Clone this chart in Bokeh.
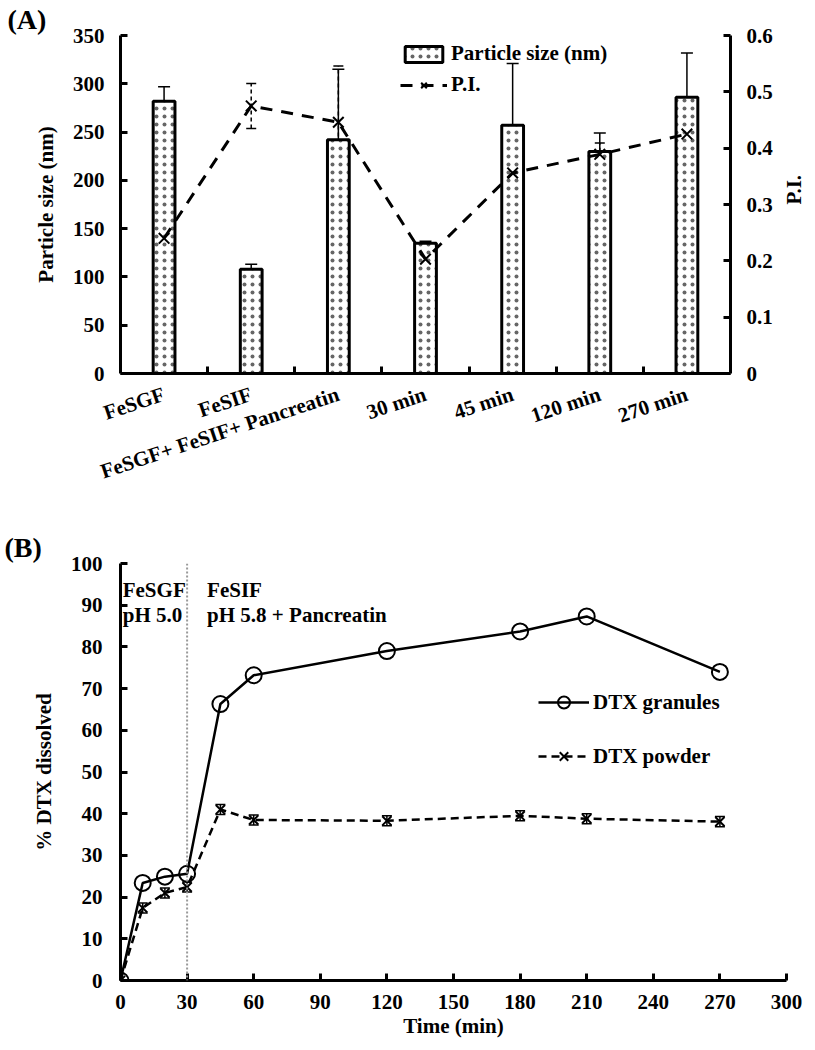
import math
from bokeh.plotting import figure
from bokeh.models import (ColumnDataSource, Whisker, TeeHead, Legend, LegendItem, Label,
                          LinearAxis, Range1d, FixedTicker, Span, Title)
from bokeh.layouts import column
from bokeh.embed import file_html
from bokeh.resources import INLINE

FONT = "Liberation Serif"
FS = "21px"

# ---------------- Panel A data ----------------
categories = ["FeSGF", "FeSIF", "FeSGF+ FeSIF+ Pancreatin", "30 min", "45 min", "120 min", "270 min"]
size_nm = [282, 108, 242, 135, 257, 230, 286]
size_err = [15, 5, 73, 2, 64, 19, 46]
pi_vals = [0.24, 0.475, 0.446, 0.203, 0.356, 0.389, 0.425]
pi_err = [0.04, 0.04, 0.10, 0.02, 0.044, 0.02, 0.023]
size_ticks = [0, 50, 100, 150, 200, 250, 300, 350]
pi_ticks = [0, 0.1, 0.2, 0.3, 0.4, 0.5, 0.6]

# ---------------- Panel B data ----------------
time_min = [0, 10, 20, 30, 45, 60, 120, 180, 210, 270]
granules = [0, 23.4, 24.9, 25.6, 66.3, 73.2, 79.0, 83.7, 87.3, 74.0]
powder = [0, 17.4, 21.0, 22.4, 41.0, 38.5, 38.3, 39.5, 38.8, 38.1]
powder_err = [0, 1.2, 1.2, 1.2, 1.2, 1.2, 1.2, 1.2, 1.2, 1.2]
time_ticks = [0, 30, 60, 90, 120, 150, 180, 210, 240, 270, 300]
pct_ticks = [0, 10, 20, 30, 40, 50, 60, 70, 80, 90, 100]
phase_change = 30
phase1_lines = ["FeSGF", "pH 5.0"]
phase2_lines = ["FeSIF", "pH 5.8 + Pancreatin"]


def style_axis(ax, tick_in=7):
    ax.axis_line_width = 3
    ax.axis_line_color = "black"
    ax.major_tick_line_width = 3
    ax.major_tick_in = tick_in
    ax.major_tick_out = 0
    ax.minor_tick_line_color = None
    ax.major_label_text_font = FONT
    ax.major_label_text_font_style = "bold"
    ax.major_label_text_font_size = FS
    ax.major_label_text_color = "black"
    ax.axis_label_text_font = FONT
    ax.axis_label_text_font_style = "bold"
    ax.axis_label_text_font_size = FS
    ax.axis_label_text_color = "black"


def panel_title(text, offset):
    return Title(text=text, align="left", offset=offset, standoff=2,
                 text_font=FONT, text_font_style="bold", text_font_size="28px",
                 text_color="black")


# ================= Panel A =================
xpos = [i + 0.5 for i in range(len(categories))]
srcA = ColumnDataSource(dict(
    x=xpos, size=size_nm,
    s_up=[v + e for v, e in zip(size_nm, size_err)],
    s_lo=[v - e for v, e in zip(size_nm, size_err)],
    pi=pi_vals,
    p_up=[v + e for v, e in zip(pi_vals, pi_err)],
    p_lo=[v - e for v, e in zip(pi_vals, pi_err)],
))

pA = figure(output_backend="svg", toolbar_location=None,
            frame_width=610, frame_height=338,
            x_range=Range1d(0, len(categories)), y_range=Range1d(0, 350),
            min_border_left=117, min_border_right=79, min_border_top=33, min_border_bottom=136)
pA.title = panel_title("(A)", -113)
pA.extra_y_ranges = {"pi": Range1d(0, 0.6)}
pA.outline_line_color = None
pA.xgrid.visible = False
pA.ygrid.visible = False
pA.background_fill_color = "white"

bars = pA.vbar(x="x", top="size", width=0.25, bottom=0, source=srcA,
               fill_color="white", line_color="black", line_width=3,
               hatch_pattern="dot", hatch_scale=8, hatch_color="black",
               hatch_weight=0.5, hatch_alpha=0.6)
pA.add_layout(Whisker(source=srcA, base="x", upper="s_up", lower="s_lo",
                      line_width=1.5, line_color="black",
                      upper_head=TeeHead(size=12, line_width=1.5),
                      lower_head=TeeHead(size=12, line_width=1.5)))

pi_line = pA.line("x", "pi", source=srcA, y_range_name="pi", line_color="black",
                  line_width=3, line_dash="12 9")
pi_pts = pA.scatter("x", "pi", source=srcA, y_range_name="pi", marker="x", size=15,
                    line_color="black", line_width=2)
pA.add_layout(Whisker(source=srcA, base="x", upper="p_up", lower="p_lo", y_range_name="pi",
                      line_width=1.5, line_color="black", line_dash="4 3",
                      upper_head=TeeHead(size=10, line_width=1.5),
                      lower_head=TeeHead(size=10, line_width=1.5)))

# axes
xa = pA.xaxis[0]
style_axis(xa, tick_in=0)
xa.ticker = FixedTicker(ticks=xpos, minor_ticks=list(range(1, len(categories))))
xa.major_label_overrides = {x: c for x, c in zip(xpos, categories)}
xa.major_tick_line_color = None
xa.minor_tick_line_color = "black"
xa.minor_tick_line_width = 3
xa.minor_tick_in = 7
xa.minor_tick_out = 0
xa.major_label_orientation = 0.32
xa.major_label_standoff = 20

ya = pA.yaxis[0]
style_axis(ya)
ya.ticker = FixedTicker(ticks=size_ticks)
ya.axis_label = "Particle size (nm)"
ya.major_label_standoff = 16
ya.axis_label_standoff = 12

ra = LinearAxis(y_range_name="pi", axis_label="P.I.", ticker=FixedTicker(ticks=pi_ticks))
style_axis(ra)
ra.major_label_overrides = {0: "0"}
ra.major_label_standoff = 16
ra.axis_label_standoff = 18
try:
    ra.axis_label_orientation = math.pi / 2
except Exception:
    pass
pA.add_layout(ra, "right")

legA = Legend(items=[LegendItem(label="Particle size (nm)", renderers=[bars]),
                     LegendItem(label="P.I.", renderers=[pi_line, pi_pts])],
              location=(280, 276), padding=0, margin=0, spacing=6,
              glyph_width=47, glyph_height=20, label_height=20, label_standoff=4,
              border_line_color=None, background_fill_alpha=0,
              label_text_font=FONT, label_text_font_style="bold",
              label_text_font_size=FS, label_text_color="black")
pA.add_layout(legA)

# ================= Panel B =================
srcP = ColumnDataSource(dict(
    t=time_min, v=powder,
    up=[v + e for v, e in zip(powder, powder_err)],
    lo=[v - e for v, e in zip(powder, powder_err)],
))

pB = figure(output_backend="svg", toolbar_location=None,
            frame_width=666, frame_height=417,
            x_range=Range1d(0, 300), y_range=Range1d(0, 100),
            min_border_left=120, min_border_right=20, min_border_top=54, min_border_bottom=63)
pB.title = panel_title("(B)", -116)
pB.outline_line_color = None
pB.xgrid.visible = False
pB.ygrid.visible = False

pB.add_layout(Span(location=phase_change, dimension="height", line_color="#999999",
                   line_width=2, line_dash="2 2"))

g_line = pB.line(time_min, granules, line_color="black", line_width=2.5)
g_pts = pB.scatter(time_min, granules, marker="circle", size=16, fill_color=None,
                   line_color="black", line_width=2)
p_line = pB.line("t", "v", source=srcP, line_color="black", line_width=2.5, line_dash="8 5")
p_pts = pB.scatter("t", "v", source=srcP, marker="x", size=13, line_color="black", line_width=2)
pB.add_layout(Whisker(source=srcP, base="t", upper="up", lower="lo",
                      line_width=1.5, line_color="black",
                      upper_head=TeeHead(size=10, line_width=1.5),
                      lower_head=TeeHead(size=10, line_width=1.5)))

xb = pB.xaxis[0]
style_axis(xb)
xb.ticker = FixedTicker(ticks=time_ticks)
xb.axis_label = "Time (min)"
xb.major_label_standoff = 14
xb.axis_label_standoff = 2

yb = pB.yaxis[0]
style_axis(yb)
yb.ticker = FixedTicker(ticks=pct_ticks)
yb.axis_label = "% DTX dissolved"
yb.major_label_standoff = 18
yb.axis_label_standoff = 12

legB = Legend(items=[LegendItem(label="DTX granules", renderers=[g_line, g_pts]),
                     LegendItem(label="DTX powder", renderers=[p_line, p_pts])],
              location=(418, 209), padding=0, margin=0, spacing=24,
              glyph_width=51, glyph_height=30, label_height=30, label_standoff=4,
              border_line_color=None, background_fill_alpha=0,
              label_text_font=FONT, label_text_font_style="bold",
              label_text_font_size=FS, label_text_color="black")
pB.add_layout(legB)

for i, line in enumerate(phase1_lines):
    pB.add_layout(Label(x=1, y=96.5, y_offset=-25 * i, text=line, text_font=FONT,
                        text_font_style="bold", text_font_size=FS, text_baseline="top",
                        text_color="black"))
for i, line in enumerate(phase2_lines):
    pB.add_layout(Label(x=39, y=96.5, y_offset=-25 * i, text=line, text_font=FONT,
                        text_font_style="bold", text_font_size=FS, text_baseline="top",
                        text_color="black"))

layout = column(pA, pB, spacing=0)
open("out.html", "w").write(file_html(layout, INLINE))
